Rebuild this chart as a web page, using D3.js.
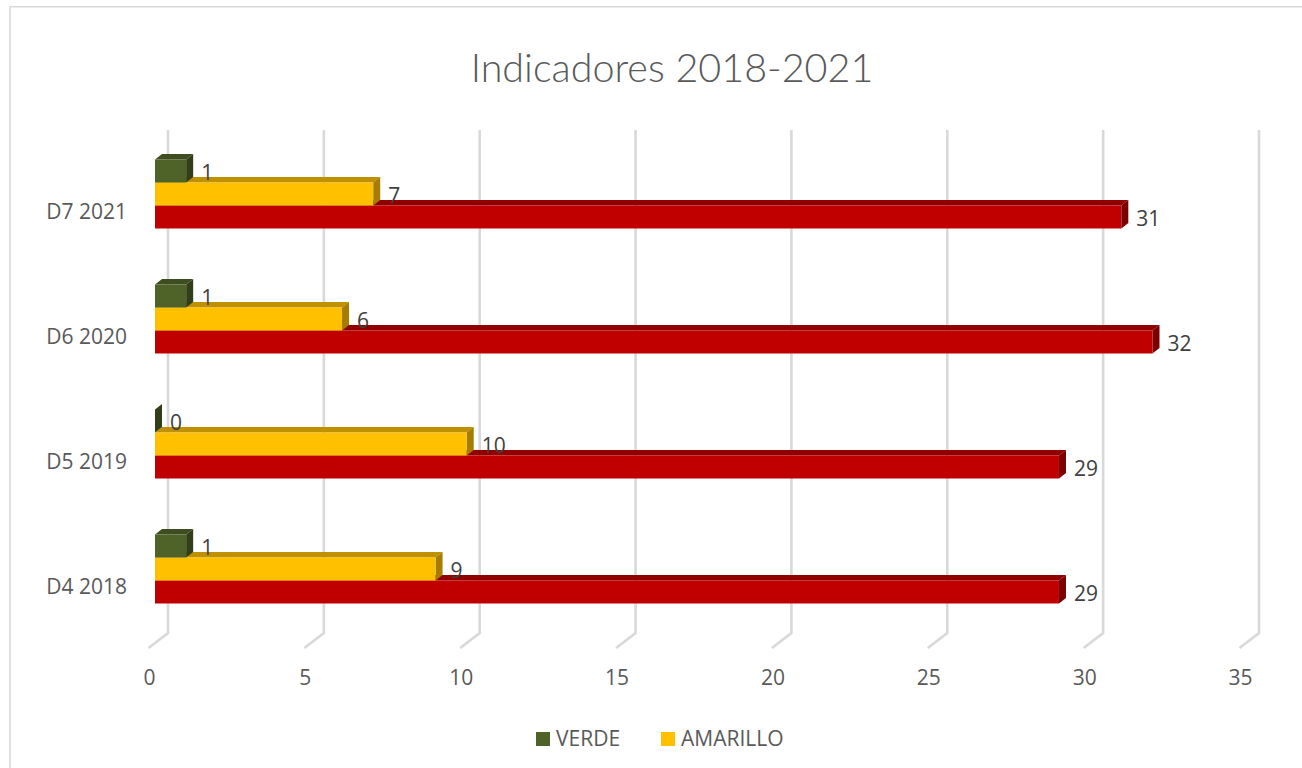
<!DOCTYPE html>
<html><head><meta charset="utf-8">
<script src="https://cdn.jsdelivr.net/npm/d3@7"></script>
<style>html,body{margin:0;padding:0;background:#fff;overflow:hidden}svg{display:block}</style>
</head><body><div id="chart"></div>
<script>
const title = "Indicadores 2018-2021";
const categories = ["D7 2021","D6 2020","D5 2019","D4 2018"];
const seriesNames = ["VERDE","AMARILLO","ROJO"];
const verde = [1,1,0,1];
const amarillo = [7,6,10,9];
const rojo = [31,32,29,29];
const seriesValues = [verde,amarillo,rojo];
const xTicks = [0,5,10,15,20,25,30,35];
const legendNames = ["VERDE","AMARILLO"];
const faces = {
  VERDE:{front:"#4F6228",top:"#3F4E20",side:"#323E19"},
  AMARILLO:{front:"#FFC000",top:"#BF9000",side:"#A67D00"},
  ROJO:{front:"#C00000",top:"#900000",side:"#7A0000"}
};
const W=1302,H=768,dx=7,dy=5.5,wallX=13;
const font='"Open Sans","Noto Sans",sans-serif';
const labelSize=21;
const svg=d3.select("#chart").append("svg").attr("width",W).attr("height",H);
svg.append("rect").attr("width",W).attr("height",H).attr("fill","#fff");
svg.append("path").attr("d",`M10,${H}V6.75H${W}`).attr("fill","none").attr("stroke","#D9D9D9").attr("stroke-width",1.6);
svg.append("text").text(title).attr("x",672).attr("y",81.5).attr("text-anchor","middle")
  .attr("font-family",'Lato,sans-serif').attr("font-weight",300).attr("font-size",39.5).attr("fill","#595959");
const x=d3.scaleLinear().domain([0,35]).range([155,1246]);
const y=d3.scaleBand().domain(categories).range([131.5,631.5]).paddingInner(0.448).paddingOuter(0.224);
const inner=d3.scaleBand().domain(seriesNames).range([0,y.bandwidth()]);
// back wall and floor gridlines
const grid=svg.append("g");
grid.selectAll("path").data(xTicks).join("path")
  .attr("d",v=>`M${x(v)+wallX},130V633L${x(v)-6.5},648`)
  .attr("fill","none").attr("stroke","#D9D9D9").attr("stroke-width",2.6);
// axes
const xAxis=d3.axisBottom(x).tickValues(xTicks).tickSize(0).tickPadding(0);
const gx=svg.append("g").attr("transform","translate(-6,670)").call(xAxis);
const yAxis=d3.axisLeft(y).tickSize(0).tickPadding(0);
const gy=svg.append("g").attr("transform","translate(127,18.5)").call(yAxis);
[gx,gy].forEach(g=>{g.select(".domain").remove();
  g.selectAll("text").attr("font-family",font).attr("font-size",labelSize).attr("fill","#595959");});
// bars
const groups=svg.append("g").selectAll("g").data(categories).join("g")
  .attr("transform",c=>`translate(0,${y(c)})`);
groups.each(function(c,i){
  const g=d3.select(this);
  [2,1,0].forEach(s=>{
    const name=seriesNames[s],v=seriesValues[s][i],f=faces[name];
    const x0=x(0),x1=x(v),y0=inner(name),h=inner.bandwidth();
    if(v>0) g.append("path").attr("fill",f.top)
      .attr("d",`M${x0},${y0}L${x0+dx},${y0-dy}H${x1+dx}L${x1},${y0}Z`);
    g.append("path").attr("fill",f.side)
      .attr("d",`M${x1},${y0}L${x1+dx},${y0-dy}V${y0+h-dy}L${x1},${y0+h}Z`);
    if(v>0) g.append("rect").attr("x",x0).attr("y",y0).attr("width",x1-x0).attr("height",h).attr("fill",f.front);
  });
  [2,1,0].forEach(s=>{
    const name=seriesNames[s],v=seriesValues[s][i];
    g.append("text").text(v).attr("x",x(v)+15).attr("y",inner(name)+inner.bandwidth()/2+9)
      .attr("font-family",font).attr("font-size",labelSize).attr("fill","#404040");
  });
});
// legend
const legX=d3.scaleOrdinal().domain(legendNames).range([536,661]);
const leg=svg.append("g").selectAll("g").data(legendNames).join("g")
  .attr("transform",d=>`translate(${legX(d)},732)`);
leg.append("rect").attr("width",14).attr("height",14).attr("fill",d=>faces[d].front);
leg.append("text").text(d=>d).attr("x",20).attr("y",14)
  .attr("font-family",font).attr("font-size",labelSize).attr("fill","#595959");
</script></body></html>
